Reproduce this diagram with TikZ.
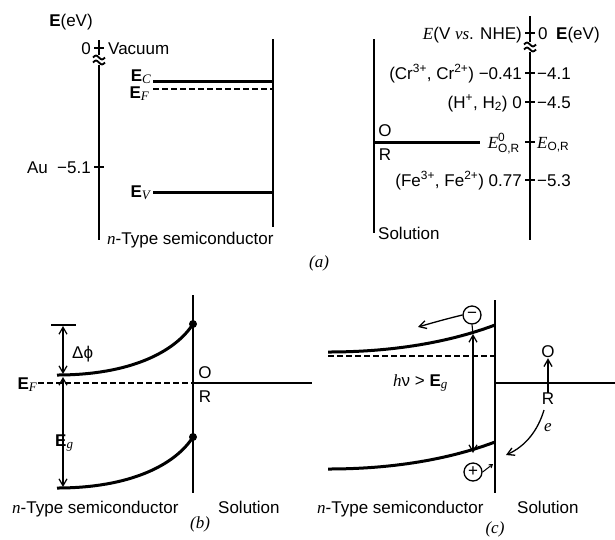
\documentclass[tikz,border=0pt]{standalone}
\usepackage{fontspec}
\usepackage{amsmath}
\setmainfont{Liberation Sans}
\newfontfamily\tms{Liberation Serif}
\usetikzlibrary{arrows.meta}
\newcommand{\fsz}{\fontsize{17}{20}\selectfont}
\newcommand{\ti}[1]{{\tms\itshape #1}}
\newcommand{\sbs}[1]{\raisebox{-2pt}{\fontsize{13}{13}\selectfont #1}}
\newcommand{\brkmark}[2]{%
  \draw[ax] (#1-6,#2-2.5) sin (#1-3,#2-4.5) cos (#1,#2-2.5) sin (#1+3,#2-0.5) cos (#1+6,#2-2.5);
  \draw[ax] (#1-6,#2+2.5) sin (#1-3,#2+0.5) cos (#1,#2+2.5) sin (#1+3,#2+4.5) cos (#1+6,#2+2.5);}
\begin{document}
\begin{tikzpicture}[x=1pt,y=-1pt,
  lbl/.style={inner sep=0pt,font=\fsz},
  band/.style={line width=3pt},
  ax/.style={line width=1.8pt},
  thinln/.style={line width=1.5pt},
  dashln/.style={line width=1.6pt,dash pattern=on 6pt off 3pt},
  arr/.style={line width=1.3pt,-{Straight Barb[length=7pt,width=8pt]}},
  darr/.style={line width=1.2pt,{Straight Barb[length=7pt,width=8pt]}-{Straight Barb[length=7pt,width=8pt]}},
  sarr/.style={line width=1pt,-{Straight Barb[length=3pt,width=4pt]}},
  dot/.style={circle,fill,inner sep=0pt,minimum size=8pt},
  chg/.style={circle,draw,line width=1.3pt,inner sep=0pt,minimum size=18pt,font=\fsz},
]
\useasboundingbox (0,0) rectangle (615,539);

% ================= (a) left: semiconductor =================
\node[lbl] (eevL) at (71,22) {\textbf{E}(eV)};
\draw[ax] (99,40) -- (99,55);
\brkmark{99}{60}
\draw[ax] (99,65) -- (99,240);
\draw[ax] (94,48) -- (104,48);
\draw[ax] (94,167) -- (104,167);
\node[lbl,anchor=base east] (zeroL) at (91,54) {0};
\node[lbl,anchor=base west] (vac) at (108,54) {Vacuum};
\node[lbl,anchor=base east] (au) at (91,173) {Au\ \ −5.1};
\draw[ax] (273,39) -- (273,227);
\draw[band] (153,81) -- (273,81);
\draw[dashln] (153,89) -- (273,89);
\draw[band] (153,192) -- (273,192);
\node[lbl,anchor=base east] (ec) at (151,81) {\textbf{E}\sbs{\ti{C}}};
\node[lbl,anchor=base east] (ef) at (149,98) {\textbf{E}\sbs{\ti{F}}};
\node[lbl,anchor=base east] (ev) at (150,197) {\textbf{E}\sbs{\ti{V}}};
\node[lbl,anchor=base west] (nsa) at (107,244) {\ti{n}-Type semiconductor};

% ================= (a) right: solution =================
\draw[ax] (374,39) -- (374,233);
\draw[ax] (530,16) -- (530,42);
\brkmark{530}{47}
\draw[ax] (530,52) -- (530,240);
\foreach \yy in {33,73,102,142,180} \draw[ax] (525,\yy) -- (535,\yy);
\node[lbl,anchor=base east] (nhe) at (522,39) {\ti{E}(V \ti{vs}. NHE)};
\node[lbl,anchor=base west] (zeroR) at (538,39) {0};
\node[lbl,anchor=base west] (eevR) at (556,39) {\textbf{E}(eV)};
\node[lbl,anchor=base east] (cr) at (522,79) {(Cr\textsuperscript{3+}, Cr\textsuperscript{2+}) −0.41};
\node[lbl,anchor=base west] (cre) at (537,79) {−4.1};
\node[lbl,anchor=base east] (hh) at (522,108) {(H\textsuperscript{+}, H\textsubscript{2}) 0};
\node[lbl,anchor=base west] (hhe) at (537,108) {−4.5};
\draw[band] (374,142) -- (480,142);
\node[lbl,anchor=base east] (e0) at (520,148) {$\text{\ti{E}}^{\text{0}}_{\text{O,R}}$};
\node[lbl,anchor=base west] (eor) at (537,148) {$\text{\ti{E}}_{\text{O,R}}$};
\node[lbl] (oa) at (385,131) {O};
\node[lbl] (ra) at (385,155) {R};
\node[lbl,anchor=base east] (fe) at (522,186) {(Fe\textsuperscript{3+}, Fe\textsuperscript{2+}) 0.77};
\node[lbl,anchor=base west] (fee) at (537,186) {−5.3};
\node[lbl,anchor=base west] (sola) at (378,239) {Solution};
\node[lbl] (capa) at (319,263) {\ti{(a)}};

% ================= (b) =================
\draw[ax] (193,295) -- (193,493);
\draw[thinln] (193,383) -- (312,383);
\draw[dashln] (38,383) -- (193,383);
\draw[band] (57,375) .. controls (130,375) and (175,352) .. (193,324);
\draw[band] (57,488) .. controls (130,488) and (175,465) .. (193,437);
\node[dot] (d1) at (193,324) {};
\node[dot] (d2) at (193,437) {};
\draw[thinln] (51,325) -- (76,325);
\draw[darr] (63,326) -- (63,374);
\draw[darr] (63,377) -- (63,487);
\node[lbl,anchor=base west] (dphi) at (72,358) {Δϕ};
\node[lbl,anchor=base east] (efb) at (37,389) {\textbf{E}\sbs{\ti{F}}};
\node[lbl,anchor=base west] (egb) at (55,446) {\textbf{E}\sbs{\ti{g}}};
\node[lbl] (ob) at (205,373) {O};
\node[lbl] (rb) at (205,397) {R};
\node[lbl,anchor=base west] (nsb) at (12,513) {\ti{n}-Type semiconductor};
\node[lbl,anchor=base west] (solb) at (218,513) {Solution};
\node[lbl] (capb) at (200,524) {\ti{(b)}};

% ================= (c) =================
\draw[ax] (495,300) -- (495,493);
\draw[thinln] (495,383) -- (615,383);
\draw[band] (328,352) .. controls (400,352) and (455,340) .. (495,325);
\draw[dashln] (328,356) -- (495,356);
\draw[band] (328,469) .. controls (400,469) and (455,457) .. (495,442);
\node[chg] (minus) at (472,315) {−};
\node[chg] (plus) at (473,472) {+};
\draw[darr] (473,334) -- (473,453);
\draw[line width=1.1pt] (minus.south) -- (473,334);
\draw[arr] (minus.west) .. controls (450,318) and (435,322) .. (418,327);
\draw[sarr] (plus.east) -- (493,464);
\node[lbl,anchor=base west] (hnu) at (393,386) {\ti{h}ν > \textbf{E}\sbs{\ti{g}}};
\node[lbl] (oc) at (548,352) {O};
\node[lbl] (rc) at (548,399) {R};
\draw[arr] (rc.north) -- (oc.south);
\draw[arr] (rc.south) ++(-4,5) .. controls (538,430) and (526,446) .. (506,455);
\node[lbl] (ec2) at (548,428) {\ti{e}};
\node[lbl,anchor=base west] (nsc) at (317,513) {\ti{n}-Type semiconductor};
\node[lbl,anchor=base west] (solc) at (517,513) {Solution};
\node[lbl] (capc) at (495,529) {\ti{(c)}};
\end{tikzpicture}
\end{document}
